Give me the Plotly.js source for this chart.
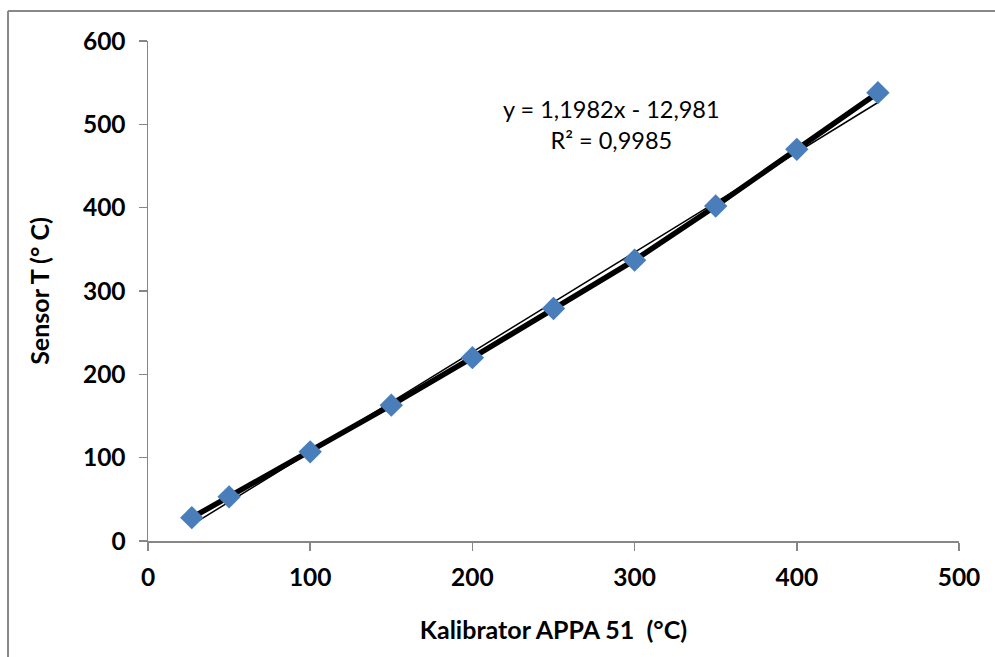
<!DOCTYPE html>
<html>
<head>
<meta charset="utf-8">
<script src="https://cdn.plot.ly/plotly-3.0.1.min.js"></script>
<style>html,body{margin:0;padding:0;background:#fff}#chart{width:995px;height:657px}</style>
</head>
<body>
<div id="chart"></div>
<script>
// Data
const kalibrator = [27, 50, 100, 150, 200, 250, 300, 350, 400, 450];
const sensor = [28, 53, 107, 163, 220, 279, 337, 402, 470, 538];
const trendSlope = 1.1982;
const trendIntercept = -12.981;
const trendLabel = "y = 1,1982x - 12,981<br>R² = 0,9985";
const xTicks = [0, 100, 200, 300, 400, 500];
const yTicks = [0, 100, 200, 300, 400, 500, 600];

const xMin = Math.min(...kalibrator), xMax = Math.max(...kalibrator);
const trendX = [xMin, xMax];
const trendY = trendX.map(x => trendSlope * x + trendIntercept);

const FONT = "Lato, 'Open Sans', 'DejaVu Sans', sans-serif";

const traces = [
  {
    x: kalibrator, y: sensor, mode: "lines", type: "scatter",
    line: {color: "#000000", width: 5.5}, hoverinfo: "skip", showlegend: false
  },
  {
    x: trendX, y: trendY, mode: "lines", type: "scatter",
    line: {color: "#000000", width: 1.5}, hoverinfo: "skip", showlegend: false
  },
  {
    x: kalibrator, y: sensor, mode: "markers", type: "scatter",
    marker: {symbol: "diamond", size: 18, color: "#4A7EBB"}, showlegend: false
  }
];

const axisCommon = {
  showgrid: false, zeroline: false, showline: true,
  linecolor: "#868686", linewidth: 1.5,
  ticks: "outside", ticklen: 8, tickcolor: "#868686", tickwidth: 1.5,
  tickfont: {family: FONT, size: 24.5, color: "#000", weight: "bold"}
};

const layout = {
  width: 995, height: 657,
  margin: {l: 148, r: 36, t: 41, b: 116},
  paper_bgcolor: "#ffffff", plot_bgcolor: "#ffffff",
  showlegend: false,
  xaxis: Object.assign({}, axisCommon, {
    range: [0, 500], tickvals: xTicks, ticktext: xTicks.map(String),
    ticklabelstandoff: 6,
    title: {text: "Kalibrator APPA 51  (°C)", font: {family: FONT, size: 25, color: "#000", weight: "bold"}, standoff: 31}
  }),
  yaxis: Object.assign({}, axisCommon, {
    range: [0, 600], tickvals: yTicks, ticktext: yTicks.map(String),
    ticklabelstandoff: 8,
    title: {text: "Sensor T (° C)", font: {family: FONT, size: 25, color: "#000", weight: "bold"}, standoff: 26}
  }),
  annotations: [{
    xref: "x", yref: "y", x: 286, y: 500, xanchor: "center", yanchor: "middle",
    text: trendLabel, showarrow: false, align: "center",
    font: {family: FONT, size: 23.5, color: "#000"}
  }],
  shapes: [
    {type: "line", xref: "paper", yref: "paper", x0: -0.1726, x1: -0.1726, y0: -0.25, y1: 1.06,
     line: {color: "#888888", width: 2}},
    {type: "line", xref: "paper", yref: "paper", x0: -0.1726, x1: 1.06, y0: 1.06, y1: 1.06,
     line: {color: "#888888", width: 2}}
  ]
};

Plotly.newPlot("chart", traces, layout, {displayModeBar: false, staticPlot: true});
</script>
</body>
</html>
